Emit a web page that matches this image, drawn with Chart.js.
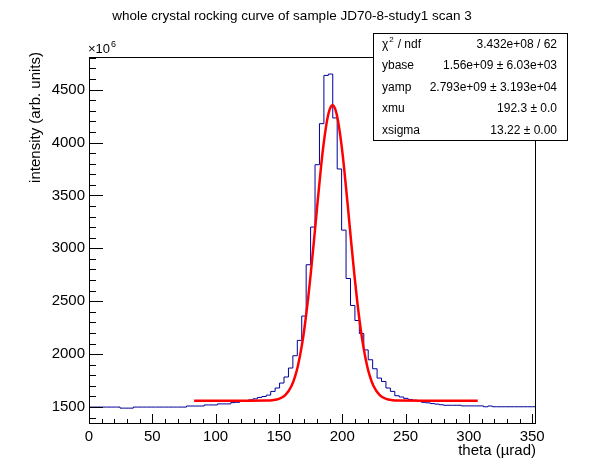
<!DOCTYPE html>
<html>
<head>
<meta charset="utf-8">
<script src="https://cdn.jsdelivr.net/npm/chart.js@4.4.0/dist/chart.umd.min.js"></script>
<style>
  html, body { margin: 0; padding: 0; background: #fff; }
  #wrap { width: 596px; height: 472px; }
</style>
</head>
<body>
<div id="wrap"><canvas id="rocking" width="596" height="472"></canvas></div>
<script>
'use strict';

/*  DATA  */
// histogram binning along theta (µrad)
const binStart = 0;
const binWidth = 3.5;
// bin contents, left to right, in units of 1e6
const counts = [
  1500, 1500, 1500, 1500, 1500, 1500, 1500, 1500, 1490, 1490,
  1490, 1500, 1500, 1500, 1500, 1500, 1500, 1500, 1500, 1500,
  1500, 1500, 1500, 1510, 1510, 1510, 1510, 1520, 1520, 1520,
  1530, 1530, 1530, 1542, 1545, 1553, 1560, 1568, 1578, 1591,
  1600, 1613, 1648, 1680, 1727, 1784, 1869, 1985, 2130, 2360,
  2845, 3201, 3790, 4178, 4634, 4647, 4232, 3750, 3172, 2715,
  2460, 2318, 2195, 2040, 1947, 1862, 1774, 1742, 1680, 1648,
  1607, 1595, 1582, 1572, 1565, 1555, 1545, 1540, 1533, 1528,
  1522, 1517, 1517, 1517, 1517, 1511, 1511, 1511, 1511, 1511,
  1503, 1510, 1503, 1503, 1503, 1503, 1503, 1503, 1503, 1503,
  1503
];

// fit curve (theta, intensity in 1e6)
const fitTheta = [
  83, 120, 140, 145, 150, 155, 160, 163, 165, 168, 170, 173, 175, 178,
  180, 183, 185, 188, 190, 192.3, 194.6, 196.6, 199.6, 201.6, 204.6,
  206.6, 209.6, 211.6, 214.6, 216.6, 219.6, 221.6, 224.6, 229.6, 234.6,
  239.6, 244.6, 265, 307
];
const fitValue = [
  1560, 1560, 1561, 1565, 1577, 1612, 1701, 1800, 1891, 2076, 2233, 2522, 2747, 3116,
  3372, 3741, 3958, 4209, 4311, 4353, 4311, 4209, 3958, 3741, 3372,
  3116, 2747, 2522, 2233, 2076, 1891, 1800, 1701, 1612, 1577,
  1565, 1561, 1560, 1560
];

// axis ranges and tick labels
const xRange = [0, 353];
const yRange = [1340, 4808];
const xTicks = [0, 50, 100, 150, 200, 250, 300, 350];
const yTicks = [1500, 2000, 2500, 3000, 3500, 4000, 4500];
const xMajor = 50, xMinor = 10;
const yMajor = 500, yMinor = 100;

// text
const titleText = 'whole crystal rocking curve of sample JD70-8-study1 scan 3';
const xTitle = 'theta (\u00b5rad)';
const yTitle = 'intensity (arb. units)';
const statNames = ['ybase', 'yamp', 'xmu', 'xsigma'];
const statValues = ['1.56e+09 \u00b1 6.03e+03', '2.793e+09 \u00b1 3.193e+04', '192.3 \u00b1 0.0', '13.22 \u00b1 0.00'];
const chi2Value = '3.432e+08 / 62';

const FONT = '"Liberation Sans", Arial, Helvetica, sans-serif';

/*  BUILD DATASETS  */
const histPoints = counts.map((c, i) => ({ x: binStart + i * binWidth, y: c }));
// closing edge of the last bin
histPoints.push({ x: binStart + counts.length * binWidth, y: counts[counts.length - 1] });
const fitPoints = fitTheta.map((t, i) => ({ x: t, y: fitValue[i] }));

/*  ROOT-LIKE FRAME, INWARD TICKS, TEXTS  */
const rootDecor = {
  id: 'rootDecor',
  beforeDraw(chart) {
    const ctx = chart.ctx;
    ctx.save();
    ctx.fillStyle = '#fff';
    ctx.fillRect(0, 0, chart.width, chart.height);
    ctx.restore();
  },
  afterDraw(chart) {
    const { ctx, chartArea: a } = chart;
    const xs = chart.scales.x, ys = chart.scales.y;
    ctx.save();
    ctx.strokeStyle = '#000';
    ctx.lineWidth = 1;
    // frame
    ctx.strokeRect(a.left + 0.5, a.top + 0.5, a.right - a.left - 1, a.bottom - a.top - 1);
    // x ticks (pointing up into the frame)
    ctx.beginPath();
    for (let v = Math.ceil(xs.min / xMinor) * xMinor; v <= xs.max; v += xMinor) {
      const px = Math.round(xs.getPixelForValue(v)) + 0.5;
      const len = v % xMajor === 0 ? 10 : 5;
      ctx.moveTo(px, a.bottom);
      ctx.lineTo(px, a.bottom - len);
    }
    // y ticks (pointing right into the frame)
    for (let v = Math.ceil(ys.min / yMinor) * yMinor; v <= ys.max; v += yMinor) {
      const py = Math.round(ys.getPixelForValue(v)) + 0.5;
      const len = v % yMajor === 0 ? 14 : 7;
      ctx.moveTo(a.left, py);
      ctx.lineTo(a.left + len, py);
    }
    ctx.stroke();

    ctx.fillStyle = '#000';
    // title
    ctx.font = '13.5px ' + FONT;
    ctx.textAlign = 'center';
    ctx.textBaseline = 'middle';
    ctx.fillText(titleText, 292, 16);

    // x axis title, right aligned at the frame end
    ctx.font = '15px ' + FONT;
    ctx.textAlign = 'right';
    ctx.textBaseline = 'middle';
    ctx.fillText(xTitle, a.right, 451);

    // y axis title, rotated, right aligned at the top
    ctx.save();
    ctx.translate(36, a.top - 5);
    ctx.rotate(-Math.PI / 2);
    ctx.textAlign = 'right';
    ctx.textBaseline = 'middle';
    ctx.fillText(yTitle, 0, 0);
    ctx.restore();

    // x10^6 exponent
    ctx.font = '13px ' + FONT;
    ctx.textAlign = 'left';
    ctx.textBaseline = 'alphabetic';
    ctx.fillText('\u00d710', a.left - 1, a.top - 4);
    const w10 = ctx.measureText('\u00d710').width;
    ctx.font = '9px ' + FONT;
    ctx.fillText('6', a.left - 1 + w10 + 1, a.top - 10);

    // stats box
    const bx = 373, by = 33, bw = 194, bh = 107;
    ctx.fillStyle = '#fff';
    ctx.fillRect(bx, by, bw, bh);
    ctx.strokeRect(bx + 0.5, by + 0.5, bw, bh);
    ctx.fillStyle = '#000';
    const rowH = bh / 5;
    ctx.textBaseline = 'middle';
    // chi2 row
    let cy = by + rowH / 2 + 1;
    ctx.font = '12px ' + FONT;
    ctx.textAlign = 'left';
    ctx.fillText('\u03c7', bx + 9, cy);
    const wc = ctx.measureText('\u03c7').width;
    ctx.font = '8px ' + FONT;
    ctx.fillText('2', bx + 9 + wc + 1, cy - 5);
    ctx.font = '12px ' + FONT;
    ctx.fillText(' / ndf', bx + 9 + wc + 6, cy);
    ctx.textAlign = 'right';
    ctx.fillText(chi2Value, bx + bw - 10, cy);
    for (let i = 0; i < statNames.length; i++) {
      cy = by + rowH * (i + 1.5) + 1;
      ctx.textAlign = 'left';
      ctx.fillText(statNames[i], bx + 9, cy);
      ctx.textAlign = 'right';
      ctx.fillText(statValues[i], bx + bw - 10, cy);
    }
    ctx.restore();
  }
};

/*  CHART  */
new Chart(document.getElementById('rocking'), {
  type: 'line',
  data: {
    datasets: [
      {
        label: 'histogram',
        data: histPoints,
        stepped: 'after',
        borderColor: '#000099',
        borderWidth: 1,
        pointRadius: 0,
        fill: false,
        order: 1
      },
      {
        label: 'fit',
        data: fitPoints,
        borderColor: '#ff0000',
        borderWidth: 2.5,
        pointRadius: 0,
        cubicInterpolationMode: 'monotone',
        fill: false,
        order: 0
      }
    ]
  },
  options: {
    responsive: false,
    animation: false,
    devicePixelRatio: 1,
    layout: { padding: { top: 57, right: 60, left: 0, bottom: 0 } },
    plugins: {
      legend: { display: false },
      tooltip: { enabled: false },
      title: { display: false }
    },
    scales: {
      x: {
        type: 'linear',
        min: xRange[0],
        max: xRange[1],
        afterBuildTicks(scale) { scale.ticks = xTicks.map(v => ({ value: v })); },
        afterFit(scale) { scale.height = 48; },
        grid: { display: false, drawTicks: false },
        border: { display: false },
        ticks: {
          padding: 4,
          color: '#000',
          maxRotation: 0,
          autoSkip: false,
          callback: v => String(v),
          font: { size: 15, family: FONT }
        }
      },
      y: {
        type: 'linear',
        min: yRange[0],
        max: yRange[1],
        afterBuildTicks(scale) { scale.ticks = yTicks.map(v => ({ value: v })); },
        afterFit(scale) { scale.width = 89; },
        grid: { display: false, drawTicks: false },
        border: { display: false },
        ticks: {
          padding: 4,
          color: '#000',
          autoSkip: false,
          callback: v => String(v),
          font: { size: 15, family: FONT }
        }
      }
    }
  },
  plugins: [rootDecor]
});
</script>
</body>
</html>
